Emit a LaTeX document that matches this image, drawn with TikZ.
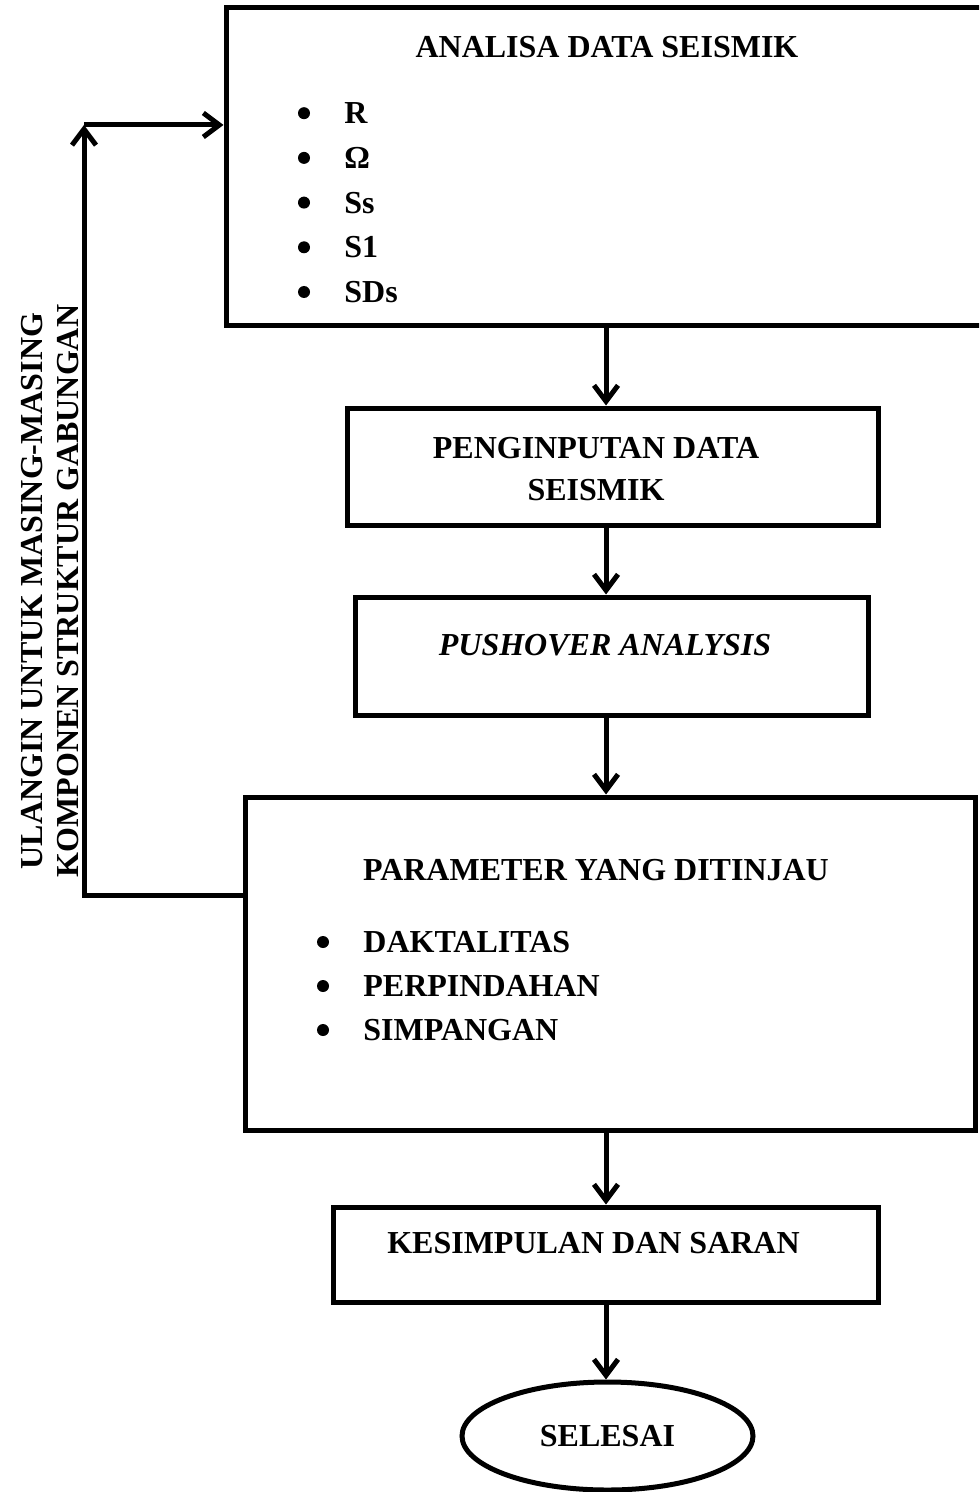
\documentclass[tikz,border=0pt]{standalone}
\usepackage{fontspec}
\setmainfont{Liberation Serif}
\usepackage{tikz}
\usetikzlibrary{shapes,arrows.meta}
\usetikzlibrary{positioning,calc}
\newcommand{\huruf}{\fontsize{16}{21}\selectfont\bfseries}
\tikzset{%
  kotak/.style={draw, line width=2.5pt, inner sep=0pt},
  panah/.style={-{Straight Barb[length=8pt,width=12pt]}, line width=2.5pt},
  judul/.style={font=\huruf, anchor=base, inner sep=0pt},
  butir/.style={font=\huruf, anchor=base west, inner sep=0pt},
  titik/.style={circle, fill, inner sep=0pt, minimum size=6pt}
}

\begin{document}
\begin{tikzpicture}[x=0.5pt,y=-0.5pt]
\clip (0,0) rectangle (979,1492);
\node[kotak, minimum width=384.5pt, minimum height=159pt] (analisa) at (610.5,167) {};
\node[kotak, minimum width=265.5pt, minimum height=58.5pt] (input) at (612.5,466.5) {};
\node[kotak, minimum width=256.5pt, minimum height=59pt] (push) at (611.5,656) {};
\node[kotak, minimum width=365pt, minimum height=166.5pt] (param) at (610,963.5) {};
\node[kotak, minimum width=272.5pt, minimum height=47.5pt] (simpul) at (605.5,1254.5) {};
\node[kotak, ellipse, minimum width=145.5pt, minimum height=54pt, font=\huruf] (selesai) at (607.5,1436) {SELESAI};

\node[judul] (t-analisa) at (607,57.5) {ANALISA DATA SEISMIK};
\foreach \teks [count=\i] in {R,Ω,Ss,S1,SDs} {
  \node[titik] (dot-a\i) at (304,68.5+44.7*\i) {};
  \node[butir] (item-a\i) at (344,79+44.7*\i) {\teks};
}
\node[judul] (t-input1) at (596,458.5) {PENGINPUTAN DATA};
\node[judul] (t-input2) at (596,500.5) {SEISMIK};
\node[judul, font=\huruf\itshape] (t-push) at (605,655.5) {PUSHOVER ANALYSIS};
\node[judul] (t-param) at (596,880.5) {PARAMETER YANG DITINJAU};
\foreach \teks [count=\i] in {DAKTALITAS,PERPINDAHAN,SIMPANGAN} {
  \node[titik] (dot-p\i) at (323,898+44*\i) {};
  \node[butir] (item-p\i) at (363,908.5+44*\i) {\teks};
}
\node[judul] (t-simpul) at (593.5,1253.5) {KESIMPULAN DAN SARAN};
\node[font=\fontsize{16}{18}\selectfont\bfseries, rotate=90, align=center, inner sep=0pt] (ulang) at (50,591)
  {ULANGIN UNTUK MASING-MASING\\KOMPONEN STRUKTUR GABUNGAN};

\coordinate (poros) at (606,0);
\foreach \a/\b in {analisa/input,input/push,push/param,param/simpul,simpul/selesai}
  \draw[panah] (poros |- \a.south) -- (poros |- \b.north);

\coordinate (kiri) at (84,895);
\coordinate (atas) at (84,125);
\draw[panah] (kiri -| param.west) -- (kiri) -- (atas);
\draw[panah] (atas) -- (atas -| analisa.west);
\end{tikzpicture}
\end{document}
